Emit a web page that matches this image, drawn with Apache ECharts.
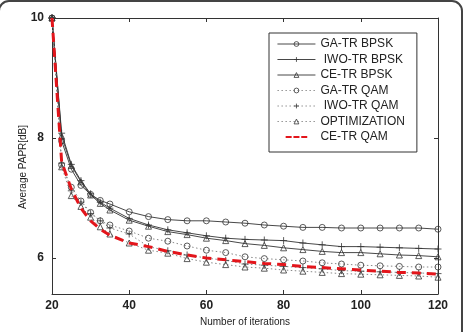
<!DOCTYPE html>
<html>
<head>
<meta charset="utf-8">
<script src="https://cdn.jsdelivr.net/npm/echarts@6/dist/echarts.min.js"></script>
<style>
  html, body { margin: 0; padding: 0; background: #fff; }
  #main { width: 467px; height: 332px; }
</style>
</head>
<body>
<div id="main"></div>
<script>
// iterations where the curves were sampled
var iterations = [20, 22.5, 25, 27.5, 30, 32.5, 35, 40, 45, 50, 55, 60, 65, 70, 75, 80, 85, 90, 95, 100, 105, 110, 115, 120];

var gaBpsk  = [10, 7.95, 7.48, 7.21, 7.06, 6.96, 6.90, 6.77, 6.69, 6.64, 6.62, 6.62, 6.60, 6.58, 6.55, 6.53, 6.51, 6.51, 6.50, 6.50, 6.50, 6.50, 6.50, 6.48];
var iwoBpsk = [10, 8.08, 7.56, 7.29, 7.07, 6.93, 6.83, 6.66, 6.55, 6.47, 6.42, 6.37, 6.33, 6.31, 6.30, 6.29, 6.25, 6.22, 6.19, 6.19, 6.18, 6.17, 6.16, 6.15];
var ceBpsk  = [10, 8.03, 7.54, 7.27, 7.05, 6.91, 6.80, 6.63, 6.53, 6.44, 6.39, 6.33, 6.29, 6.24, 6.21, 6.17, 6.14, 6.11, 6.09, 6.09, 6.07, 6.05, 6.04, 6.02];
var gaQam   = [10, 7.55, 7.18, 6.95, 6.76, 6.62, 6.55, 6.45, 6.33, 6.28, 6.20, 6.13, 6.09, 6.02, 5.99, 5.97, 5.95, 5.92, 5.90, 5.88, 5.87, 5.86, 5.85, 5.85];
var iwoQam  = [10, 7.58, 7.12, 6.93, 6.74, 6.62, 6.50, 6.40, 6.19, 6.12, 6.05, 6.00, 5.96, 5.90, 5.88, 5.86, 5.84, 5.82, 5.79, 5.78, 5.77, 5.76, 5.75, 5.74];
var optim   = [10, 7.52, 7.04, 6.86, 6.68, 6.52, 6.40, 6.25, 6.13, 6.08, 5.99, 5.93, 5.89, 5.85, 5.83, 5.80, 5.78, 5.76, 5.74, 5.73, 5.72, 5.71, 5.70, 5.68];
var ceQam   = [10, 7.60, 7.15, 6.83, 6.62, 6.48, 6.38, 6.25, 6.19, 6.11, 6.05, 6.00, 5.97, 5.94, 5.91, 5.89, 5.86, 5.84, 5.82, 5.80, 5.78, 5.76, 5.75, 5.73];

var yTicks = [6, 8, 10];
var xTicks = [20, 40, 60, 80, 100, 120];

var ink = '#333';
var red = '#e3151b';
var plusSym = 'path://M5,0L5,10M0,5L10,5';
// dashed red sample for the legend (tiny corner dots keep the box 38x10)
var dashIcon = 'path://M0,0h0.01v0.01h-0.01zM38,10h0.01v0.01h-0.01zM1,3.5h10v3h-10zM14,3.5h10v3h-10zM27,3.5h10v3h-10z';

function pairs(values) {
    return iterations.map(function (x, i) { return [x, values[i]]; });
}

function makeSeries(name, values, symbol, dotted) {
    return {
        name: name,
        type: 'line',
        data: pairs(values),
        symbol: symbol,
        symbolSize: symbol === plusSym ? 7 : 6,
        showAllSymbol: true,
        itemStyle: {
            color: 'rgba(255,255,255,0)',
            borderColor: ink,
            borderWidth: 0.8
        },
        lineStyle: dotted
            ? { color: '#888', width: 1, type: [1.5, 2.5] }
            : { color: ink, width: 0.9 },
        z: 3
    };
}

var chart = echarts.init(document.getElementById('main'));
chart.setOption({
    backgroundColor: '#fff',
    animation: false,
    textStyle: { fontFamily: 'Liberation Sans, Arial, sans-serif' },
    graphic: [{
        type: 'rect',
        shape: { x: -1, y: 1, width: 463, height: 345, r: 10 },
        style: { fill: 'none', stroke: '#444', lineWidth: 2 },
        z: 100
    }],
    legend: {
        orient: 'vertical',
        left: 269,
        top: 33,
        padding: [5, 12, 9, 8],
        itemWidth: 38,
        itemHeight: 6,
        itemGap: 3.5,
        backgroundColor: '#fff',
        borderColor: ink,
        borderWidth: 1,
        lineStyle: { width: 0.9 },
        itemStyle: { borderWidth: 0.8 },
        textStyle: { fontSize: 12, color: '#222' },
        data: ['GA-TR BPSK', ' IWO-TR BPSK', 'CE-TR BPSK', 'GA-TR QAM', ' IWO-TR QAM', 'OPTIMIZATION',
            { name: 'CE-TR QAM', icon: dashIcon, itemStyle: { color: red, borderWidth: 0 } }]
    },
    grid: { left: 52, top: 18, right: 29, bottom: 33 },
    xAxis: [{
        type: 'value',
        min: 20,
        max: 120,
        interval: 20,
        name: 'Number of iterations',
        nameLocation: 'middle',
        nameGap: 23,
        nameMoveOverlap: false,
        nameTextStyle: { fontSize: 10, color: '#222' },
        axisLine: { lineStyle: { color: ink } },
        axisTick: { inside: true, length: 4, lineStyle: { color: ink } },
        axisLabel: { customValues: xTicks, fontSize: 12, fontWeight: 'bold', color: '#222', margin: 6 },
        splitLine: { show: false }
    }, {
        type: 'value',
        position: 'top',
        min: 20,
        max: 120,
        interval: 20,
        axisLine: { lineStyle: { color: ink } },
        axisTick: { inside: true, length: 4, lineStyle: { color: ink } },
        axisLabel: { show: false },
        splitLine: { show: false }
    }],
    yAxis: [{
        type: 'value',
        min: 5.4,
        max: 10,
        name: 'Average PAPR[dB]',
        nameLocation: 'middle',
        nameGap: 24,
        nameMoveOverlap: false,
        nameTextStyle: { fontSize: 10, color: '#222', padding: [0, 22, 0, 0] },
        axisLine: { show: true, lineStyle: { color: ink } },
        axisTick: { show: true, inside: true, length: 4, customValues: yTicks, lineStyle: { color: ink } },
        axisLabel: { customValues: yTicks, fontSize: 12, fontWeight: 'bold', color: '#222', margin: 8 },
        splitLine: { show: false }
    }, {
        type: 'value',
        position: 'right',
        min: 5.4,
        max: 10,
        axisLine: { show: true, lineStyle: { color: ink } },
        axisTick: { show: true, inside: true, length: 4, customValues: yTicks, lineStyle: { color: ink } },
        axisLabel: { show: false },
        splitLine: { show: false }
    }],
    series: [
        makeSeries('GA-TR BPSK', gaBpsk, 'circle', false),
        makeSeries(' IWO-TR BPSK', iwoBpsk, plusSym, false),
        makeSeries('CE-TR BPSK', ceBpsk, 'triangle', false),
        makeSeries('GA-TR QAM', gaQam, 'circle', true),
        makeSeries(' IWO-TR QAM', iwoQam, plusSym, true),
        makeSeries('OPTIMIZATION', optim, 'triangle', true),
        {
            name: 'CE-TR QAM',
            type: 'line',
            data: pairs(ceQam),
            symbol: 'none',
            itemStyle: { color: red },
            lineStyle: { color: red, width: 3, type: [9, 6] },
            z: 4
        }
    ]
});
window.addEventListener('resize', function () {
    chart.resize();
});
</script>
</body>
</html>
